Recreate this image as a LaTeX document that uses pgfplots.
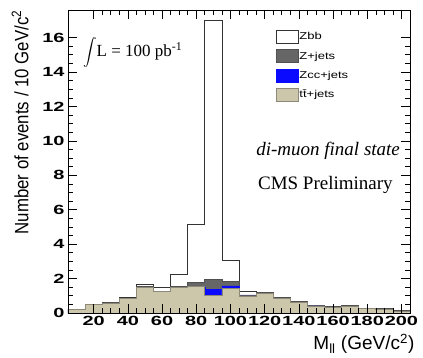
\documentclass[border=0pt]{standalone}
\usepackage{graphicx}
\usepackage{pgfplots}
\pgfplotsset{compat=1.18}
\usepackage{fontspec}
\setmainfont{Liberation Sans}
\newfontfamily\ticksfont[FakeStretch=1.5]{Liberation Sans}
\newfontfamily\legfont[FakeStretch=1.3]{Liberation Sans}
\newfontfamily\serif{Liberation Serif}
\definecolor{tanf}{RGB}{204,199,170}
\definecolor{tanl}{RGB}{140,137,120}
\definecolor{zjf}{RGB}{102,102,102}
\definecolor{zjl}{RGB}{80,80,80}
\definecolor{zccf}{RGB}{10,10,255}
\begin{document}
\begin{tikzpicture}[x=1pt,y=1pt]
\path[use as bounding box] (-68,-44) rectangle (355,313);
\begin{axis}[
  at={(0,0)}, anchor=south west,
  width=342pt, height=303pt, scale only axis,
  xmin=5, xmax=205, ymin=0, ymax=17.6,
  axis on top,
  xtick={20,40,...,200}, ytick={0,2,...,16},
  minor x tick num=3, minor y tick num=3,
  tick align=inside,
  major tick length=9pt, minor tick length=5pt,
  axis line style={black, line width=0.8pt},
  every tick/.style={black, line width=0.6pt},
  /pgf/number format/assume math mode=true,
  ticklabel style={font=\ticksfont\bfseries\fontsize{13.3}{14}\selectfont},
  ylabel={\scalebox{1}[1.15]{Number of events / 10 GeV/c\textsuperscript{2}}},
  ylabel style={font=\fontsize{16.8}{17}\selectfont, at={(axis description cs:-0.14,1.01)}, anchor=east},
  xlabel={M\textsubscript{ll} (GeV/c\textsuperscript{2})},
  xlabel style={font=\fontsize{19}{20}\selectfont, at={(axis description cs:1.023,-0.122)}, anchor=base east},
  legend style={at={(0.608,0.934)}, anchor=north west, draw=none, fill=none,
     inner sep=0pt, row sep=5.5pt, nodes={inner sep=0.5pt},
     font=\legfont\fontsize{10}{12}\selectfont},
  legend cell align=left,
  legend image code/.code={\draw[#1] (0pt,-6.5pt) rectangle (22pt,6.5pt);},
]
% Zbb (total)
\addplot[const plot, fill=white, draw=black!80, line width=0.8pt] coordinates {
(5,0.22) (15,0.52) (25,0.62) (35,0.88) (45,1.65) (55,1.49) (65,2.27) (75,5.12)
(85,17.0) (95,3.08) (105,1.27) (115,1.20) (125,0.91) (135,0.65) (145,0.46)
(155,0.37) (165,0.45) (175,0.27) (185,0.27) (195,0.14) (205,0.14)} \closedcycle;
\addlegendentry{Zbb}
% Z+jets
\addplot[const plot, fill=zjf, draw=zjl, line width=0.8pt] coordinates {
(5,0.22) (15,0.52) (25,0.60) (35,0.86) (45,1.55) (55,1.27) (65,1.52) (75,1.76)
(85,1.96) (95,1.82) (105,1.05) (115,1.20) (125,0.91) (135,0.65) (145,0.46)
(155,0.37) (165,0.45) (175,0.27) (185,0.27) (195,0.14) (205,0.14)} \closedcycle;
\addlegendentry{Z+jets}
% Zcc+jets
\addplot[const plot, fill=zccf, draw=zccf, line width=0.5pt] coordinates {
(5,0.20) (15,0.50) (25,0.58) (35,0.83) (45,1.49) (55,1.23) (65,1.47) (75,1.52)
(85,1.38) (95,1.57) (105,0.99) (115,1.14) (125,0.86) (135,0.62) (145,0.41)
(155,0.33) (165,0.39) (175,0.24) (185,0.23) (195,0.10) (205,0.10)} \closedcycle;
\addlegendentry{Zcc+jets}
% ttbar+jets
\addplot[const plot, fill=tanf, draw=tanl, line width=0.8pt] coordinates {
(5,0.20) (15,0.50) (25,0.58) (35,0.83) (45,1.49) (55,1.23) (65,1.47) (75,1.52)
(85,1.03) (95,1.42) (105,0.99) (115,1.14) (125,0.86) (135,0.62) (145,0.41)
(155,0.33) (165,0.39) (175,0.24) (185,0.23) (195,0.10) (205,0.10)} \closedcycle;
\addlegendentry{t\={t}+jets}
\node[anchor=base west, inner sep=0pt] at (axis description cs:0.044,0.845)
  {\serif\fontsize{17}{17}\selectfont \raisebox{-1pt}{\scalebox{1.35}{$\displaystyle\int$}}L = 100 pb\textsuperscript{-1}};
\node[anchor=base east, inner sep=0pt] at (axis description cs:0.971,0.521)
  {\serif\itshape\fontsize{19}{19}\selectfont di-muon final state};
\node[anchor=base east, inner sep=0pt] at (axis description cs:0.950,0.409)
  {\serif\fontsize{19}{19}\selectfont CMS Preliminary};
\end{axis}
\end{tikzpicture}
\end{document}
